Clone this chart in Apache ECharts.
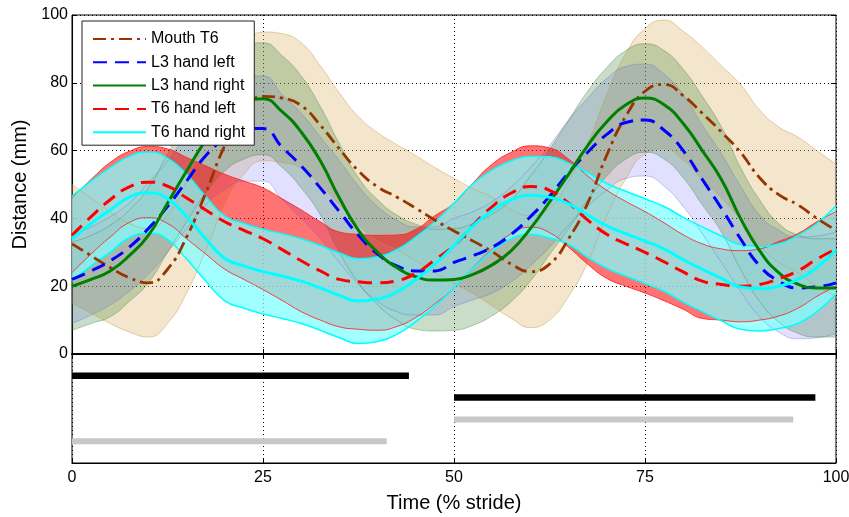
<!DOCTYPE html>
<html><head><meta charset="utf-8">
<script src="https://cdn.jsdelivr.net/npm/echarts@6/dist/echarts.min.js"></script>
<style>html,body{margin:0;padding:0;background:#fff;} #c{width:849px;height:517px;}</style>
</head><body><div id="c"></div>
<script>
// ---- data ----
const timePct = [0,2.5,5,7.5,10,12.5,15,17.5,20,22.5,25,27.5,30,32.5,35,37.5,40,42.5,45,47.5,50,
                 52.5,55,57.5,60,62.5,65,67.5,70,72.5,75,77.5,80,82.5,85,87.5,90,92.5,95,97.5,100];
const seriesNames = ['Mouth T6','L3 hand left','L3 hand right','T6 hand left','T6 hand right'];

const mouthT6Mean = [32.5,29,25.5,22.5,21,25,34.5,47.5,61.5,71.5,76,75.5,73.3,67.5,60.5,54,49.3,46.3,43,39.5,36.3,
                     33.3,30.2,26.5,24.3,26.5,34,44.5,58.7,70.2,77.5,79.5,76.2,71,65.5,59.5,52,47,44,40,36.5];
const mouthT6SD   = [17.5,17,16.5,16,16,16,16.5,17,17.5,18.5,19,19,18.5,17.5,16.5,16,16,15.5,15.5,15.5,15.5,
                     15.5,16,16,16.5,16.5,17,17.5,18,18.5,18.5,19,19,19.5,19.5,20,20,20,20,20,19.5];

const l3LeftMean  = [22,24.5,27.5,31.5,37,43.5,51,58.5,63.5,66.5,66.5,61,55.5,49,42,35,29.5,26,24.5,24.5,27,
                     29,31.5,35.3,40.5,46.5,53.5,59.5,64.8,68.3,69,66,60,51.5,43,34,26,21.5,19.5,19.8,21];
const l3LeftSD    = [13,13,13,13,13.5,13.5,14,14.5,15,15.5,15.5,15.5,15.5,15,15,14.5,14,13.5,13,13,13,
                     13,13.5,14,14.5,15,15.5,16,16.5,16.5,16.5,16.5,16.5,16,16,15.5,15,15,15,15,15];

const l3RightMean = [20,22,24.5,29,35,44.5,54,63,70,74,75.3,71.5,65.5,57,46,36.5,30,25.5,22.8,21.8,22,
                     23.5,26.3,30.5,37,44.8,53,61.5,68.5,73.5,75.5,73.5,68,60,51.5,40,30.5,24,20.6,19.5,19.5];
const l3RightSD   = [13,13,13.5,13.5,14,14.5,15,15.5,16,16.5,16.5,16.5,16.5,16,16,15.5,15.5,15.5,15.5,15,15,
                     15,15,15,15.5,15.5,16,16,16,16,16,16,16,16,15.5,15,15,14.5,14.5,14.5,14.5];

const t6LeftMean  = [35,40.5,45.5,49.3,50.7,49.5,46,42.5,39,36.5,34,30.8,27.5,24.5,22,21.3,21,21.6,23.8,27.8,32,
                     38,43.5,47.5,49.4,48.3,44.5,39.5,35.3,32.5,30,27.2,24.2,21.5,20.5,20,20.5,22.2,24.5,28,31];
const t6LeftSD    = [11,11,11,10.5,10.5,11,12,13,14,14.5,15,15,15,14.5,14,14,14,13.5,13,13,12.5,
                     12.5,12.5,12,12,12.5,13,13,13,12.5,12,11.5,11,11,10.5,10.5,10.5,11,11,11,11];

const t6RightMean = [34,38.5,42.5,46.3,47.6,45.8,40.5,34,28.2,26,24.3,23,21.5,19.5,17.3,15.6,16.2,18.3,22,26.5,32,
                     37.8,42.3,45.5,46.8,46.2,44.3,41,37.8,35.5,33.3,31,27.8,25,22.3,19.8,19.3,20,22,25.5,30.7];
const t6RightSD   = [12.5,12.5,12.5,12,12,12,12.5,12.5,12.5,12.5,12.5,12.5,12.5,12.5,12.5,12.5,12.5,12.5,12.5,12.5,12.5,
                     12.5,12,11.5,11.5,12,12,12.5,12.5,12.5,12.5,12.5,12.5,12.5,12.5,12.5,12.5,12.5,13,13,13];

// gait bars (lower panel), % stride
const gaitStart = [0, 50, 50, 0];
const gaitEnd   = [44.1, 97.3, 94.4, 41.2];
const gaitRow   = [4, 3, 2, 1];

const xTickLabels = ['0','25','50','75','100'];

// ---- styling ----
const FONT = 'Liberation Sans, Arial, Helvetica, sans-serif';
const SM = 0.5;
const bandStyles = [
  {fill:'rgba(222,184,110,0.35)', edge:'rgba(200,150,80,0.45)', w:1},
  {fill:'rgba(120,120,255,0.22)', edge:'rgba(100,100,200,0.35)', w:1},
  {fill:'rgba(40,120,40,0.25)',   edge:'rgba(60,120,60,0.35)', w:1},
  {fill:'rgba(255,0,0,0.55)',     edge:'rgba(255,40,40,0.9)', w:1},
  {fill:'rgba(126,255,255,0.72)', edge:'#00ffff', w:1.5}
];
const lineStyles = [
  {color:'#993300', type:[13,5,3,5], width:2.8},
  {color:'#0000ff', type:[14,8], width:3},
  {color:'#008000', type:'solid', width:3},
  {color:'#ff0000', type:[14,8], width:3},
  {color:'#00ffff', type:'solid', width:3}
];
const gaitColors = ['#000','#000','#c8c8c8','#c8c8c8'];
const gaitWidths = [6.5,6.5,6,6];

const means = [mouthT6Mean,l3LeftMean,l3RightMean,t6LeftMean,t6RightMean];
const sds = [mouthT6SD,l3LeftSD,l3RightSD,t6LeftSD,t6RightSD];

const series = [];
means.forEach((m, k) => {
  const sd = sds[k], st = bandStyles[k];
  series.push({
    type:'line', name: seriesNames[k]+' lower', xAxisIndex:0, yAxisIndex:0,
    data: m.map((v,i)=>v-sd[i]), stack:'band'+k, smooth:SM,
    symbol:'none', silent:true, lineStyle:{color:st.edge, width:st.w}, z:2
  });
  series.push({
    type:'line', name: seriesNames[k]+' upper', xAxisIndex:0, yAxisIndex:0,
    data: sd.map(v=>2*v), stack:'band'+k, smooth:SM,
    symbol:'none', silent:true, lineStyle:{color:st.edge, width:st.w},
    areaStyle:{color:st.fill, opacity:1}, z:2
  });
});
means.forEach((m, k) => {
  const ls = lineStyles[k];
  series.push({
    type:'line', name: seriesNames[k], xAxisIndex:0, yAxisIndex:0,
    data: m.slice(), smooth:SM, symbol:'none', showSymbol:false,
    lineStyle:{color:ls.color, type:ls.type, width:ls.width}, itemStyle:{color:ls.color}, z:3
  });
});
gaitStart.forEach((s, k) => {
  series.push({
    type:'line', name:'gait'+k, xAxisIndex:1, yAxisIndex:2, symbol:'none', silent:true,
    data:[[s, gaitRow[k]],[gaitEnd[k], gaitRow[k]]],
    lineStyle:{color:gaitColors[k], width:gaitWidths[k], cap:'butt'}, z:3
  });
});

const dotted = {color:'#000', type:[1,3], width:1};
const everyTenth = (i)=> i % 10 === 0;
const chart = echarts.init(document.getElementById('c'), null, {renderer:'canvas'});
chart.setOption({
  animation:false,
  backgroundColor:'#fff',
  textStyle:{fontFamily:FONT},
  grid:[
    {left:72, top:15, width:764, height:339, show:true, borderColor:'#000', borderWidth:1,
     backgroundColor:'transparent', containLabel:false, outerBoundsMode:'none'},
    {left:72, top:354, width:764, height:109, show:true, borderColor:'#000', borderWidth:1,
     backgroundColor:'transparent', containLabel:false, outerBoundsMode:'none'}
  ],
  legend:{
    data: seriesNames.map(n=>({name:n})), orient:'vertical', left:82, top:21,
    itemWidth:53, itemHeight:14, itemGap:7.3,
    itemStyle:{opacity:0},
    padding:[10,9,5,10], backgroundColor:'#fff', borderColor:'#222', borderWidth:1,
    textStyle:{fontFamily:FONT, fontSize:16, color:'#000'}, z:10
  },
  xAxis:[
    {gridIndex:0, type:'category', data: timePct.map(String), boundaryGap:false,
     axisLabel:{show:false}, axisLine:{show:true, lineStyle:{color:'#000', width:2}},
     axisTick:{show:true, inside:true, length:5, interval:everyTenth, lineStyle:{color:'#000'}},
     splitLine:{show:true, interval:everyTenth, lineStyle:dotted}},
    {gridIndex:1, type:'value', min:0, max:100, interval:25,
     axisLabel:{show:true, fontSize:16, color:'#000', margin:7, fontFamily:FONT,
       formatter:(v)=>xTickLabels[Math.round(v/25)]},
     axisLine:{show:true, lineStyle:{color:'#000', width:1}},
     axisTick:{show:true, inside:true, length:5, lineStyle:{color:'#000'}},
     splitLine:{show:true, lineStyle:dotted},
     name:'Time (% stride)', nameLocation:'middle', nameGap:30,
     nameTextStyle:{fontSize:20, color:'#000', fontFamily:FONT}},
    {gridIndex:0, type:'value', position:'top', min:0, max:100, interval:25,
     axisLabel:{show:false}, axisLine:{show:false},
     axisTick:{show:true, inside:true, length:5, lineStyle:{color:'#000'}}, splitLine:{show:false}}
  ],
  yAxis:[
    {gridIndex:0, type:'value', min:0, max:100, interval:20,
     axisLabel:{show:true, fontSize:16, color:'#000', margin:4, fontFamily:FONT},
     axisLine:{show:true, lineStyle:{color:'#000'}},
     axisTick:{show:true, inside:true, length:5, lineStyle:{color:'#000'}},
     splitLine:{show:true, lineStyle:dotted},
     name:'Distance (mm)', nameLocation:'middle', nameGap:41,
     nameTextStyle:{fontSize:20, color:'#000', fontFamily:FONT}},
    {gridIndex:0, type:'value', position:'right', min:0, max:100, interval:20,
     axisLabel:{show:false}, axisLine:{show:false},
     axisTick:{show:true, inside:true, length:5, lineStyle:{color:'#000'}}, splitLine:{show:false}},
    {gridIndex:1, type:'value', min:0, max:5, show:false}
  ],
  series: series
});
</script></body></html>
